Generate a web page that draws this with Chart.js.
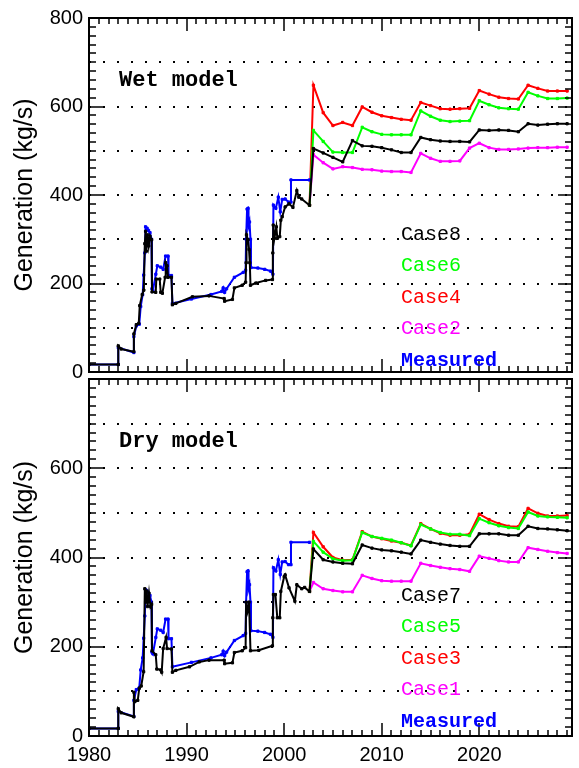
<!DOCTYPE html>
<html><head><meta charset="utf-8">
<script src="https://cdn.jsdelivr.net/npm/chart.js@4.4.1/dist/chart.umd.min.js"></script>
<style>
html,body{margin:0;padding:0;background:#fff;width:579px;height:768px;overflow:hidden}
canvas{position:absolute;left:0}
#c1{top:0}
#c2{top:361px}
</style></head><body>
<canvas id="c1" width="579" height="390"></canvas>
<canvas id="c2" width="579" height="407"></canvas>
<script>
// ---------- DATA ----------
const forecastYears = [2003,2004,2005,2006,2007,2008,2009,2010,2011,2012,2013,2014,2015,2016,2017,2018,2019,2020,2021,2022,2023,2024,2025,2026,2027,2028,2029];

// Wet model forecasts
const wetCase8 = [505,495,485,475,523,511,510,507,502,496,496,530,525,522,521,521,520,547,546,547,546,543,561,558,560,561,561];
const wetCase6 = [546,521,497,496,496,553,543,537,536,536,536,590,578,569,566,567,568,613,604,597,595,594,632,624,618,618,619];
const wetCase4 = [648,586,557,564,557,599,587,579,575,571,569,609,602,595,594,595,596,636,628,621,618,617,648,641,635,635,635];
const wetCase2 = [491,473,459,464,462,458,457,454,453,453,451,494,483,476,476,477,506,517,507,503,503,504,506,507,507,508,508];

// Dry model forecasts
const dryCase7 = [419,395,390,387,386,428,421,417,415,412,408,439,434,430,427,425,425,453,453,453,450,450,470,465,464,462,460];
const dryCase5 = [436,412,397,393,394,456,447,443,439,433,426,474,464,456,452,452,449,487,478,471,467,465,502,493,491,490,489];
const dryCase3 = [456,424,400,394,395,458,447,442,437,433,427,476,464,454,450,450,452,497,485,476,470,469,510,499,493,493,494];
const dryCase1 = [344,330,326,323,323,360,353,348,347,347,347,387,382,378,375,373,369,403,398,393,390,390,422,418,414,411,409];

// Measured history
const measuredYears = [1980.0,1983.0,1983.0,1984.6,1984.6,1984.85,1985.15,1985.3,1985.5,1985.6,1985.72,1985.8,1985.95,1986.1,1986.25,1986.4,1986.45,1986.55,1986.85,1987.0,1987.35,1987.6,1987.85,1988.1,1988.15,1988.45,1988.55,1990.5,1992.5,1993.6,1993.75,1993.9,1994.1,1994.9,1995.8,1996.05,1996.1,1996.2,1996.3,1996.35,1996.45,1996.55,1996.6,1997.3,1998.0,1998.6,1998.85,1998.9,1999.15,1999.4,1999.6,1999.8,2000.1,2000.45,2000.7,2000.7,2002.6];
const measuredValues = [17,17,55,44,80,104,108,148,175,219,269,328,325,320,315,300,188,184,221,240,237,232,262,262,218,218,155,165,175,182,190,180,188,214,225,230,300,368,370,330,339,300,236,235,232,228,221,377,370,395,362,390,391,384,384,434,434];

// Wet model history (simulated)
const wetHistYears = [1980.0,1983.0,1983.0,1983.3,1984.6,1984.6,1984.85,1985.1,1985.2,1985.45,1985.62,1985.72,1985.8,1985.88,1986.0,1986.12,1986.25,1986.42,1986.46,1986.84,1986.9,1987.25,1987.35,1987.52,1987.8,1987.86,1988.0,1988.1,1988.45,1988.55,1988.9,1990.6,1992.3,1993.85,1993.9,1994.7,1994.9,1995.7,1996.05,1996.1,1996.14,1996.3,1996.4,1996.48,1996.55,1997.1,1998.1,1998.8,1998.84,1998.88,1999.0,1999.2,1999.3,1999.55,1999.66,1999.8,2000.1,2000.5,2000.9,2001.3,2001.5,2001.8,2002.6];
const wetHistValues = [17,17,59,52,46,86,107,110,150,175,185,290,318,273,310,285,307,299,181,180,210,210,180,178,214,247,240,214,214,152,155,170,172,166,160,164,190,196,203,247,310,299,277,247,196,201,207,209,269,332,302,328,302,306,343,351,373,380,372,410,395,391,377];

// Dry model history (simulated)
const dryHistYears = [1980.0,1983.0,1983.0,1983.3,1984.6,1984.6,1984.7,1985.0,1985.15,1985.35,1985.6,1985.72,1985.8,1985.9,1986.0,1986.15,1986.3,1986.42,1986.46,1986.84,1986.95,1987.35,1987.45,1987.6,1987.9,1988.0,1988.45,1988.55,1988.9,1990.3,1991.3,1992.3,1993.85,1993.9,1994.7,1994.9,1995.7,1996.05,1996.1,1996.25,1996.4,1996.55,1997.4,1998.8,1998.84,1998.9,1999.1,1999.3,1999.55,1999.66,2000.0,2000.1,2000.5,2001.1,2001.3,2001.8,2002.1,2002.6];
const dryHistValues = [17,17,61,52,43,98,77,80,107,112,144,330,300,325,290,320,290,295,191,182,150,148,143,196,221,196,195,143,147,155,166,170,170,162,164,187,191,198,300,280,300,191,192,202,265,317,317,265,265,324,357,361,332,302,339,330,333,324];

const yTickValues = [0,200,400,600,800];
const xTickValues = [1980,1990,2000,2010,2020];

// ---------- HELPERS ----------
function pts(xs, ys){ return xs.map((v,i)=>({x:v, y:ys[i]})); }
function forecast(vals, histX, histY){
  const p = [{x: histX[histX.length-1], y: histY[histY.length-1]}];
  return p.concat(pts(forecastYears, vals));
}
function ds(data, color){
  return {data, borderColor: color, backgroundColor: color, borderWidth: 2,
    showLine: true, tension: 0, pointStyle: 'rect', pointRadius: 1.6, pointBorderWidth: 1,
    pointBorderColor: color, pointBackgroundColor: color};
}

const frameTicks = {
  id: 'frameTicks',
  afterDatasetsDraw(chart) {
    const {ctx, chartArea: a, scales: {x, y}} = chart;
    ctx.save();
    ctx.strokeStyle = '#000';
    ctx.lineWidth = 2;
    ctx.strokeRect(a.left, a.top, a.right - a.left, a.bottom - a.top);
    ctx.lineWidth = 1.5;
    ctx.beginPath();
    for (let v = 0; v <= 800; v += 20) {
      const py = Math.round(y.getPixelForValue(v));
      const len = v % 200 === 0 ? 14 : 7;
      ctx.moveTo(a.left, py); ctx.lineTo(a.left + len, py);
      ctx.moveTo(a.right, py); ctx.lineTo(a.right - len, py);
    }
    for (let yr = 1980; yr <= 2029; yr++) {
      const px = Math.round(x.getPixelForValue(yr));
      const len = yr % 10 === 0 ? 13 : 6;
      ctx.moveTo(px, a.bottom); ctx.lineTo(px, a.bottom - len);
      ctx.moveTo(px, a.top); ctx.lineTo(px, a.top + len);
    }
    ctx.stroke();
    ctx.restore();
  }
};

function textPlugin(panelName, labels){
  return {
    id: 'texts',
    afterDraw(chart){
      const {ctx, chartArea: a} = chart;
      ctx.save();
      ctx.textBaseline = 'alphabetic';
      ctx.textAlign = 'left';
      ctx.fillStyle = '#000';
      ctx.font = 'bold 22px "Liberation Mono", monospace';
      ctx.fillText(panelName, a.left + 30, a.top + 68);
      labels.forEach((l, i) => {
        ctx.fillStyle = l.color;
        ctx.font = (l.bold ? 'bold ' : '') + '20px "Liberation Mono", monospace';
        ctx.fillText(l.text, a.left + 312, a.top + 221.5 + i * 31.6);
      });
      ctx.restore();
    }
  };
}

function makeChart(id, hist, cases, panelName, caseNames, isBottom){
  const [hx, hy] = hist;
  const [cBlack, cGreen, cRed, cMag] = cases;
  const datasets = [
    ds(pts(hx, hy).concat(pts(forecastYears, cBlack)), '#000000'),
    ds(pts(measuredYears, measuredValues), '#0000ff'),
    ds(forecast(cGreen, hx, hy), '#00ff00'),
    ds(forecast(cRed, hx, hy), '#ff0000'),
    ds(forecast(cMag, hx, hy), '#ff00ff')
  ];
  const labels = [
    {text: caseNames[0], color: '#000000'},
    {text: caseNames[1], color: '#00ff00'},
    {text: caseNames[2], color: '#ff0000'},
    {text: caseNames[3], color: '#ff00ff'},
    {text: 'Measured', color: '#0000ff', bold: true}
  ];
  return new Chart(document.getElementById(id), {
    type: 'scatter',
    data: {datasets},
    options: {
      responsive: false, animation: false, devicePixelRatio: 1,
      layout: {padding: {top: 14, right: 7, left: 0, bottom: 0}},
      plugins: {legend: {display: false}, tooltip: {enabled: false}},
      scales: {
        x: {
          type: 'linear', min: 1980, max: 2029.5,
          afterFit(s){ s.height = isBottom ? 32 : 15; },
          afterBuildTicks(s){ s.ticks = xTickValues.map(v => ({value: v})); },
          ticks: {display: isBottom, padding: 7, color: '#000', font: {family: 'Liberation Sans', size: 20},
            maxRotation: 0, autoSkip: false, callback: v => String(v)},
          grid: {display: false, drawTicks: false},
          border: {display: false}
        },
        y: {
          min: 0, max: 800,
          afterFit(s){ s.width = 89; },
          ticks: {stepSize: 100, padding: 6, color: '#000', font: {family: 'Liberation Sans', size: 20},
            callback: v => (yTickValues.indexOf(v) >= 0 && !(isBottom && v === 800)) ? String(v) : ''},
          grid: {color: '#000', lineWidth: 2, drawTicks: false},
          border: {display: false, dash: [2, 12], dashOffset: 0},
          title: {display: true, text: 'Generation (kg/s)', color: '#000',
            font: {family: 'Liberation Sans', size: 25}, padding: {top: 10, bottom: 0}}
        }
      }
    },
    plugins: [frameTicks, textPlugin(panelName, labels)]
  });
}

makeChart('c1', [wetHistYears, wetHistValues], [wetCase8, wetCase6, wetCase4, wetCase2], 'Wet model', ['Case8','Case6','Case4','Case2'], false);
makeChart('c2', [dryHistYears, dryHistValues], [dryCase7, dryCase5, dryCase3, dryCase1], 'Dry model', ['Case7','Case5','Case3','Case1'], true);
</script>
</body></html>
